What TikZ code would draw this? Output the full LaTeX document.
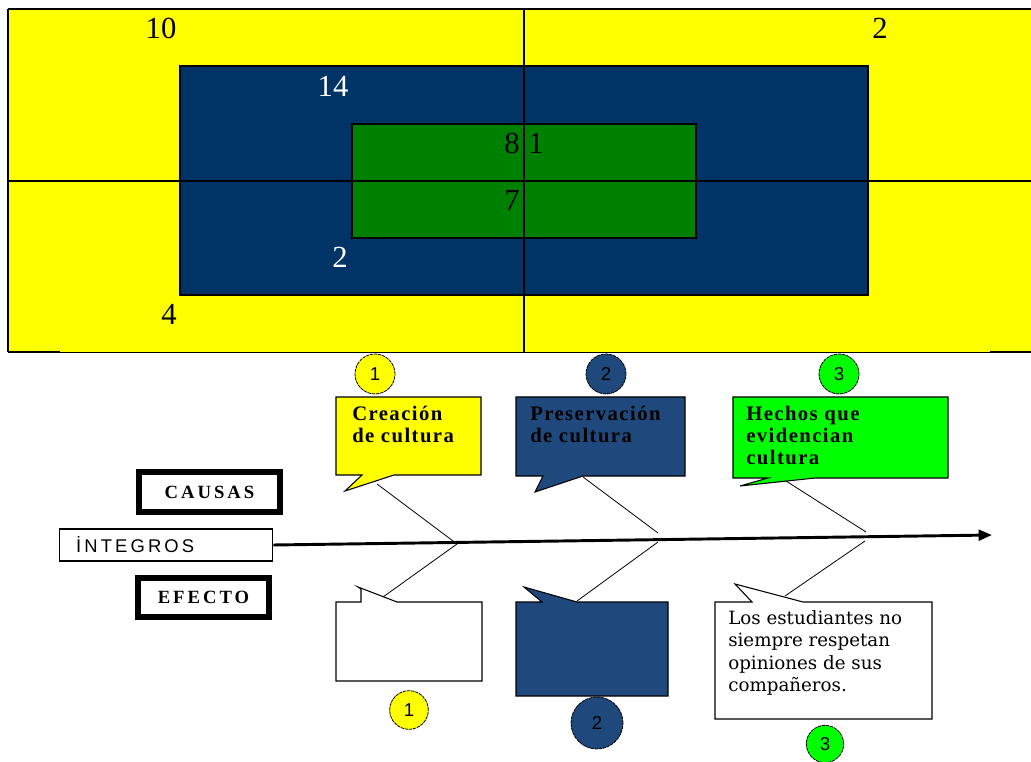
\documentclass[tikz,border=0pt]{standalone}
\usepackage{fontspec}
\setmainfont{Liberation Serif}
\setsansfont{Liberation Sans}
\newfontfamily\cmtfont{DejaVu Serif}
\usetikzlibrary{arrows.meta}
\definecolor{yel}{HTML}{FFFF00}
\definecolor{navyT}{HTML}{003366}
\definecolor{grnT}{HTML}{008000}
\definecolor{navyB}{HTML}{1F497D}
\definecolor{grnB}{HTML}{00FF00}
\begin{document}
\begin{tikzpicture}[x=0.75pt,y=-0.75pt,
  num/.style={font=\fontsize{23}{25}\selectfont, inner sep=0pt, anchor=base},
  bone/.style={line width=0.6pt},
  badge/.style={circle, draw=black, line width=0.6pt, dash pattern=on 2.5pt off 0.6pt,
    minimum size=30pt, inner sep=0pt, font=\sffamily\fontsize{14}{16}\selectfont},
  callout/.style={draw=black, line width=0.8pt},
  ctext/.style={font=\bfseries\fontsize{15.5}{16.5}\selectfont\addfontfeature{LetterSpace=7},
    align=left, anchor=north west, inner sep=0pt},
  tagbox/.style={draw=black, line width=4.2pt, inner sep=0pt,
    font=\bfseries\fontsize{14}{16}\selectfont\addfontfeature{LetterSpace=16}},
  spine/.style={line width=2.2pt, -{Triangle[length=10pt,width=8pt]}}
]
\useasboundingbox (0,0) rectangle (1031,762);
% ---------- top matrix ----------
\fill[yel] (8,10) rectangle (1031,352);
\filldraw[fill=navyT, draw=black, line width=1.5pt] (180,66) rectangle (868,295);
\filldraw[fill=grnT, draw=black, line width=1.2pt] (352,124) rectangle (696,238);
\draw[line width=1.2pt] (524,9) -- (524,352);
\draw[line width=1.2pt] (8,181) -- (1031,181);
\draw[line width=1.5pt] (8,9) -- (1031,9);
\draw[line width=0.8pt] (8,9) -- (8,352);
\draw[line width=0.6pt] (8,352) -- (1031,352);
\draw[line width=1.6pt] (8,352) -- (60,352) (990,352) -- (1031,352);
\node[num] (n10) at (161,39) {10};
\node[num] (n2a) at (880,39) {2};
\node[num, text=white] (n14) at (333,97) {14};
\node[num] (n8) at (512,154) {8};
\node[num] (n1) at (536,154) {1};
\node[num] (n7) at (512,211) {7};
\node[num, text=white] (n2b) at (340,268) {2};
\node[num] (n4) at (169,325) {4};
% ---------- top badges ----------
\node[badge, fill=yel] (b1t) at (375,374) {1};
\node[badge, fill=navyB] (b2t) at (606,374) {2};
\node[badge, fill=grnB] (b3t) at (839,374) {3};
% ---------- upper callouts ----------
\filldraw[callout, fill=yel] (336,397) -- (481,397) -- (481,475) -- (394,475) -- (345,491) -- (362,475) -- (336,475) -- cycle;
\node[ctext] (t1) at (352,406) {Creación\\de cultura};
\filldraw[callout, fill=navyB] (516,397) -- (685,397) -- (685,476) -- (583,476) -- (535,492) -- (543,476) -- (516,476) -- cycle;
\node[ctext] (t2) at (530,406) {Preservación\\de cultura};
\filldraw[callout, fill=grnB] (733,397) -- (948,397) -- (948,478) -- (815,478) -- (787,481) -- (740,486) -- (768,478) -- (733,478) -- cycle;
\node[ctext] (t3) at (746,406) {Hechos que\\evidencian\\cultura};
% ---------- labels ----------
\node[tagbox, minimum width=106pt, minimum height=30.3pt] (causas) at (209.5,492) {CAUSAS};
\node[tagbox, minimum width=98.5pt, minimum height=29.5pt] (efecto) at (203.5,597.5) {EFECTO};
\node[draw=black, line width=0.8pt, anchor=west, inner xsep=12.5pt, inner ysep=0pt,
  text width=135pt, minimum height=24pt, align=left,
  font=\sffamily\fontsize{13.8}{15}\selectfont\addfontfeature{LetterSpace=17}] (integros) at (59,545) {İNTEGROS};
% ---------- spine ----------
\coordinate (tip) at (992,535);
\draw[spine] (integros.east) -- (tip);
% ---------- bones ----------
\coordinate (j1) at (457,544);
\coordinate (j2u) at (658,533);
\coordinate (j2d) at (658,542);
\coordinate (j3u) at (866,532);
\coordinate (j3d) at (865,541);
\coordinate (u1) at (377,484);
\coordinate (u2) at (583,477);
\coordinate (u3) at (786,481);
\coordinate (d1) at (383,597);
\coordinate (d2) at (577,601);
\coordinate (d3) at (785,596);
\draw[bone] (u1) -- (j1) -- (d1);
\draw[bone] (u2) -- (j2u);
\draw[bone] (d2) -- (j2d);
\draw[bone] (u3) -- (j3u);
\draw[bone] (d3) -- (j3d);
% ---------- lower callouts ----------
\filldraw[callout, fill=white] (336,602) -- (361,602) -- (361,589) -- (358,587) -- (397,602) -- (482,602) -- (482,681) -- (336,681) -- cycle;
\filldraw[callout, fill=navyB] (516,602) -- (542,602) -- (524,587) -- (577,602) -- (668,602) -- (668,696) -- (516,696) -- cycle;
\filldraw[callout, fill=white] (715,602) -- (752,602) -- (735,584) -- (803,602) -- (932,602) -- (932,719) -- (715,719) -- cycle;
\node[font=\cmtfont\fontsize{13.7}{16.9}\selectfont, align=left, anchor=north west, inner sep=0pt] (t6) at (728,610)
  {Los estudiantes no\\siempre respetan\\opiniones de sus\\compañeros.};
% ---------- bottom badges ----------
\node[badge, fill=yel, minimum size=29pt] (b1b) at (409,710) {1};
\node[badge, fill=navyB, minimum size=39pt] (b2b) at (597,723) {2};
\node[badge, fill=grnB, minimum size=28pt] (b3b) at (825,744) {3};
\end{tikzpicture}
\end{document}
